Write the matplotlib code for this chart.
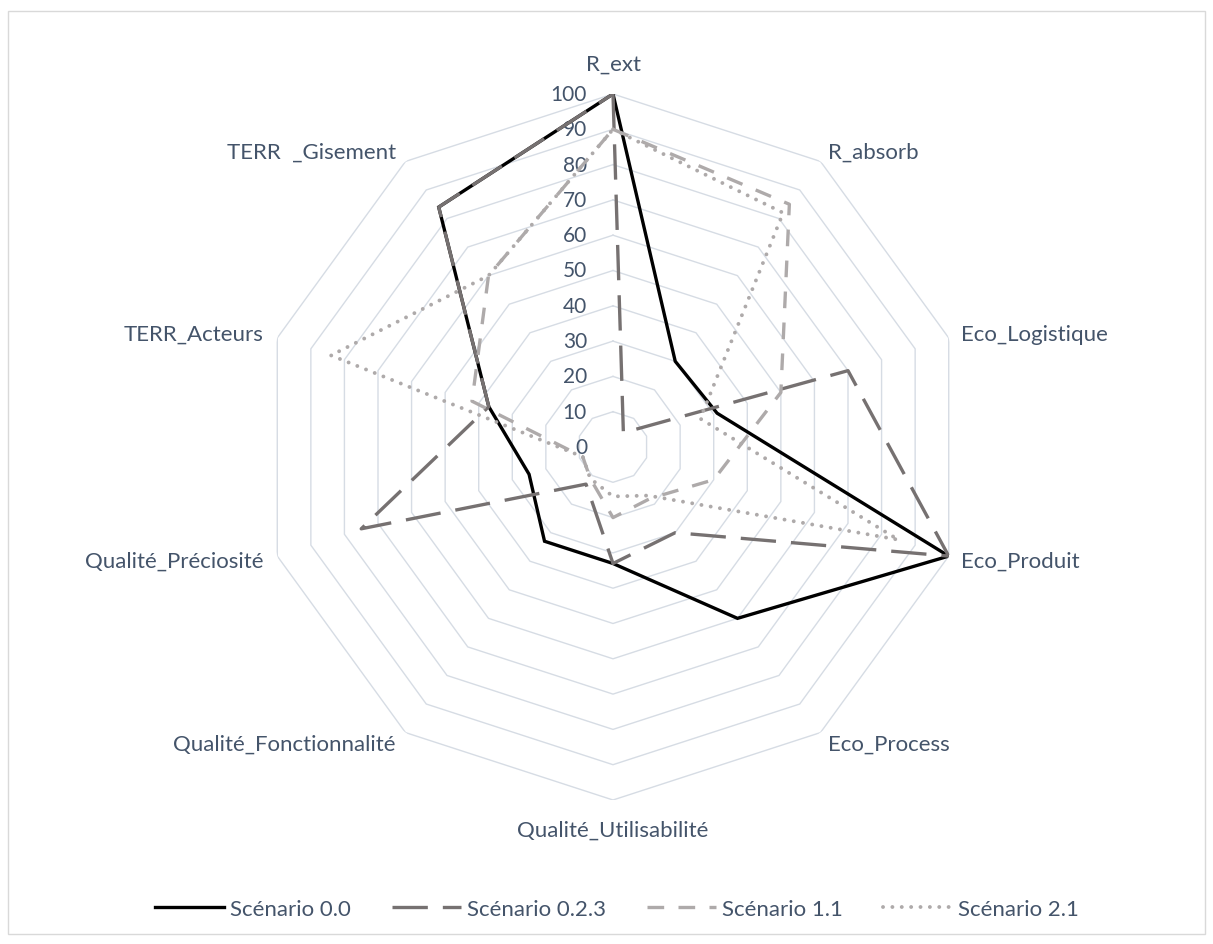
import numpy as np
import matplotlib
matplotlib.use("Agg")
import matplotlib.pyplot as plt
from matplotlib.patches import Rectangle

plt.rcParams['font.family'] = ['Lato', 'DejaVu Sans']

categories = ["R_ext", "R_absorb", "Eco_Logistique", "Eco_Produit", "Eco_Process",
              "Qualité_Utilisabilité", "Qualité_Fonctionnalité", "Qualité_Préciosité",
              "TERR_Acteurs", "TERR  _Gisement"]

scenario_00 = [100, 30, 31, 100, 60, 33, 33, 25, 37, 84]
scenario_023 = [100, 5, 70, 100, 30, 33, 13, 75, 37, 84]
scenario_11 = [90, 85, 50, 30, 18, 20, 11, 9, 42, 60]
scenario_21 = [90, 82, 26, 85, 17, 14, 11, 9, 84, 60]

series_names = ["Scénario 0.0", "Scénario 0.2.3", "Scénario 1.1", "Scénario 2.1"]
ticks = list(range(0, 101, 10))

text_col = '#44546A'
grid_col = '#D6DCE4'
fs_lab = 16
fs_tick = 15
pt = 0.72  # points per pixel at 100 dpi

W, H = 1213, 945
fig = plt.figure(figsize=(W / 100, H / 100), dpi=100)

# chart border
fig.patches.append(Rectangle((8 / W, 10 / H), 1197 / W, 923 / H, transform=fig.transFigure,
                             fill=False, edgecolor='#D9D9D9', linewidth=1))

cx, cy, rad = 613, 448, 353
ax = fig.add_axes([(cx - rad) / W, (H - cy - rad) / H, 2 * rad / W, 2 * rad / H],
                  projection='polar')
ax.set_theta_zero_location('N')
ax.set_theta_direction(-1)
ax.set_ylim(0, 100)
ax.grid(False)
ax.spines['polar'].set_visible(False)
ax.set_xticks([])
ax.set_yticks([])
ax.patch.set_visible(False)

n = len(categories)
theta = np.linspace(0, 2 * np.pi, n, endpoint=False)
closed = np.append(theta, theta[0])

# decagon rings
for v in ticks[1:]:
    ax.plot(closed, [v] * (n + 1), color=grid_col, lw=1.0, zorder=1)

# value labels along the first axis
for v in ticks:
    ax.annotate(str(v), (0, v), xytext=(-26 * pt, 0), textcoords='offset points',
                ha='right', va='center', color=text_col, fontsize=fs_tick)

# category labels, offset (px) from the outer vertex
offsets = [(0, 30, 'center'), (8, 10, 'left'), (12, 4, 'left'), (12, -5, 'left'),
           (8, -11, 'left'), (0, -30, 'center'), (-10, -11, 'right'),
           (-14, -5, 'right'), (-14, 4, 'right'), (-9, 10, 'right')]
for t, lab, (dx, dy, ha) in zip(theta, categories, offsets):
    ax.annotate(lab, (t, 100), xytext=(dx * pt, dy * pt), textcoords='offset points',
                ha=ha, va='center', color=text_col, fontsize=fs_lab, annotation_clip=False)

lw = 2.4
styles = [
    dict(color='#000000', ls='-'),
    dict(color='#767171', ls=(0, (10.6, 4.5))),
    dict(color='#AEAAAA', ls=(0, (5.0, 4.3))),
    dict(color='#AEAAAA', ls=(0, (0.01, 2.4)), dash_capstyle='round', lw=2.8),
]
data = [scenario_00, scenario_023, scenario_11, scenario_21]
for vals, name, st in zip(data, series_names, styles):
    st = dict(st)
    w = st.pop('lw', lw)
    ax.plot(closed, vals + vals[:1], lw=w, label=name, zorder=3,
            solid_joinstyle='miter', **st)

handles, labels = ax.get_legend_handles_labels()
fig.legend(handles, labels, loc='center', bbox_to_anchor=(617 / W, (H - 910) / H), ncol=4,
           frameon=False, fontsize=fs_lab, handlelength=3.1, columnspacing=1.85,
           handletextpad=0.27, labelcolor=text_col)

fig.savefig('out.png', dpi=100)
